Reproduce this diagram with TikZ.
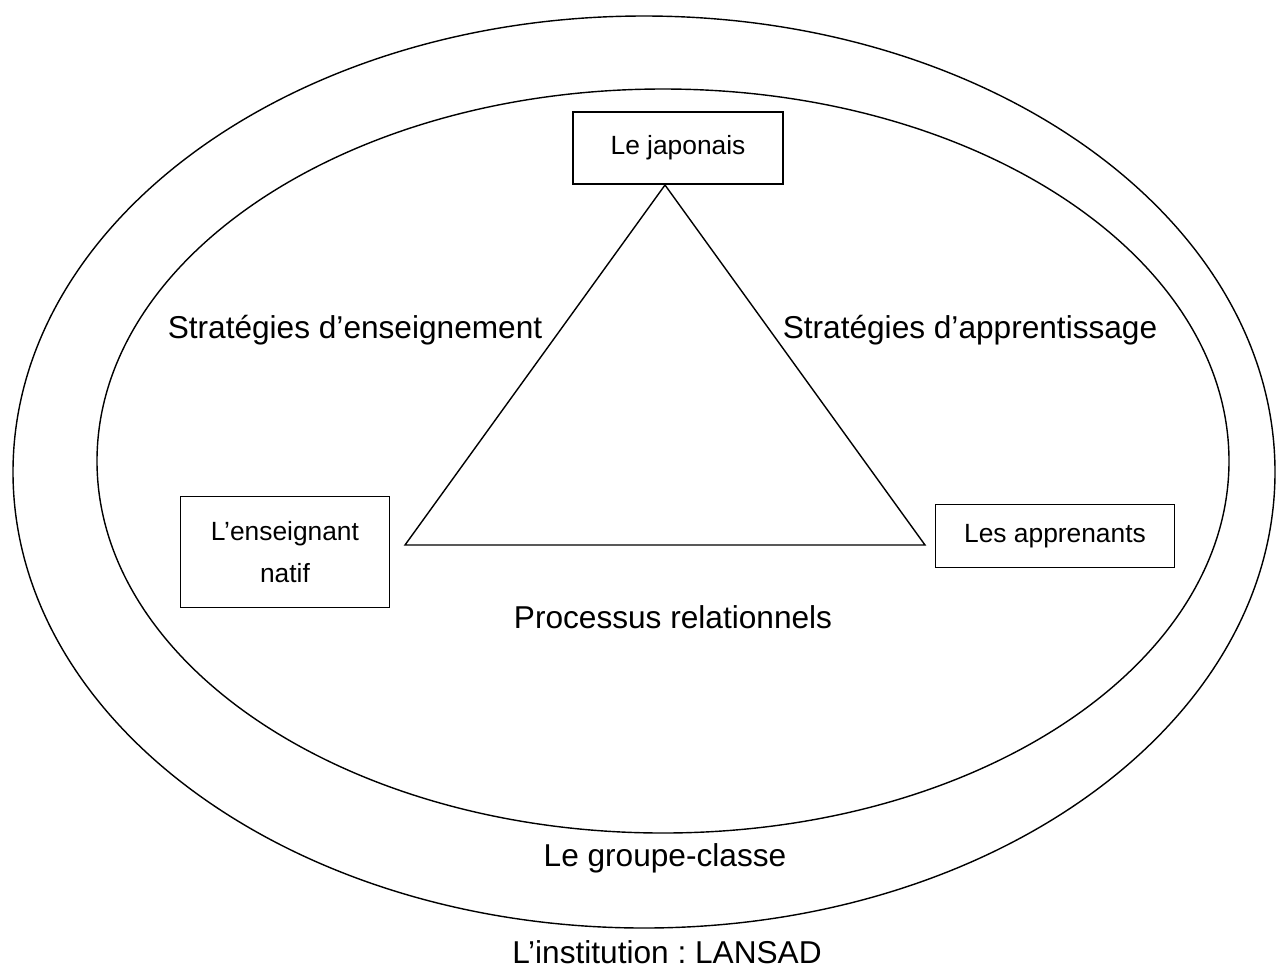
\documentclass[tikz,border=0pt]{standalone}
\usepackage{fontspec}
\setmainfont{Liberation Sans}
\usetikzlibrary{positioning}

\tikzset{
  pole/.style={draw, line width=0.8pt, align=center, font=\fontsize{15}{24}\selectfont},
  bigtext/.style={font=\fontsize{18}{22}\selectfont}
}

\begin{document}
\begin{tikzpicture}[x=0.02cm, y=-0.02cm, line width=0.8pt]
                \useasboundingbox (0,0) rectangle (1278,968);

                \draw (644,472) ellipse [x radius=631, y radius=456];
                \draw (663,461) ellipse [x radius=566, y radius=372];

                \node[pole, minimum width=210*0.02cm, minimum height=72*0.02cm] (japonais) at (678,148) {Le japonais};
                \node[pole, minimum width=209*0.02cm, minimum height=111*0.02cm] (enseignant) at (285,552) {L’enseignant\\natif};
                \node[pole, minimum width=239*0.02cm, minimum height=63*0.02cm] (apprenants) at (1055,536) {Les apprenants};

                \coordinate (sommet) at (665,185);
                \coordinate (gauche) at (405,545);
                \coordinate (droite) at (925,545);
                \draw (sommet) -- (gauche) -- (droite) -- cycle;

                \node[bigtext] (strens) at (355,330) {Stratégies d’enseignement};
                \node[bigtext] (strapp) at (970,330) {Stratégies d’apprentissage};
                \node[bigtext] (processus) at (673,617) {Processus relationnels};
                \node[bigtext] (groupe) at (665,858) {Le groupe-classe};
                \node[bigtext, inner sep=0pt] (institution) at (667,952) {L’institution :\ LANSAD};
            \end{tikzpicture}
\end{document}
